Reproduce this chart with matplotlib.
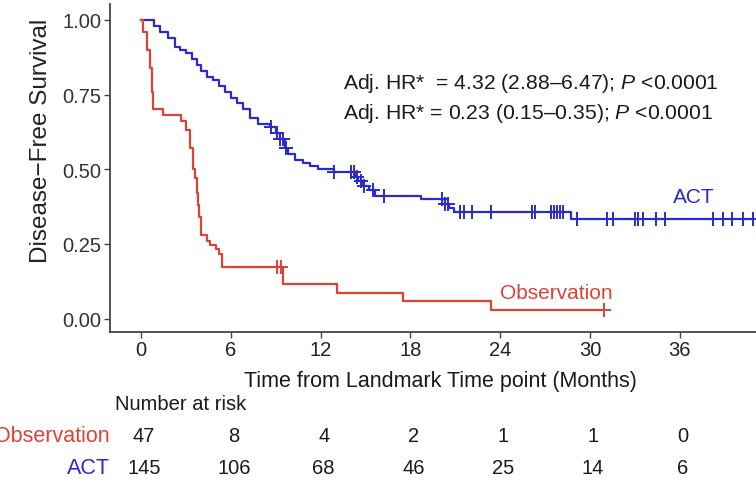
# Kaplan-Meier style disease-free survival curves with a number-at-risk table
import numpy as np
import matplotlib
matplotlib.use('Agg')
import matplotlib.pyplot as plt
from matplotlib.transforms import blended_transform_factory

plt.rcParams['font.family'] = ['Liberation Sans', 'DejaVu Sans']
plt.rcParams['mathtext.fontset'] = 'custom'
plt.rcParams['mathtext.it'] = 'Liberation Sans:italic'
plt.rcParams['mathtext.rm'] = 'Liberation Sans'

# ACT arm: event times (months) and survival after each step
act_time = [0, 0.9, 1.3, 1.8, 2.3, 2.6, 3.0, 3.4, 3.75, 4.0, 4.4, 4.8, 5.2, 5.6, 6.0,
            6.4, 6.8, 7.3, 7.8, 8.6, 9.0, 9.3, 9.6, 9.8, 10.3, 10.8, 11.3, 11.8, 12.9,
            14.3, 14.5, 14.8, 15.2, 15.6, 18.7, 20.3, 20.6, 20.9, 28.7]
act_surv = [1.0, 0.98, 0.96, 0.94, 0.91, 0.90, 0.89, 0.87, 0.85, 0.83, 0.81, 0.80, 0.78,
            0.76, 0.74, 0.72, 0.70, 0.67, 0.65, 0.64, 0.62, 0.60, 0.57, 0.55, 0.53, 0.52,
            0.51, 0.50, 0.49, 0.475, 0.46, 0.445, 0.43, 0.41, 0.40, 0.385, 0.37, 0.356, 0.332]
act_cens = [8.7, 9.1, 9.3, 9.5, 9.7, 12.9, 14.0, 14.2, 14.4, 14.7, 14.9, 15.5, 16.2,
            20.1, 20.3, 20.5, 21.3, 21.6, 22.1, 23.4, 26.1, 26.3, 27.4, 27.6, 27.8, 28.0,
            28.2, 29.1, 31.1, 31.5, 33.0, 33.2, 33.5, 34.4, 35.0, 38.2, 38.9, 39.5, 40.2, 40.9]

# Observation arm
obs_time = [0, 0.13, 0.4, 0.6, 0.74, 0.8, 1.5, 2.7, 3.0, 3.3, 3.5, 3.6, 3.75, 3.8, 3.85,
            4.0, 4.4, 4.6, 5.0, 5.2, 5.4, 9.5, 13.1, 17.5, 23.4]
obs_surv = [1.0, 0.96, 0.90, 0.84, 0.76, 0.70, 0.68, 0.66, 0.63, 0.57, 0.50, 0.47, 0.42,
            0.38, 0.34, 0.28, 0.26, 0.245, 0.234, 0.217, 0.174, 0.117, 0.087, 0.06, 0.027]
obs_cens = [9.1, 9.35, 30.9]

risk_times = [0, 6, 12, 18, 24, 30, 36]
risk_obs = [47, 8, 4, 2, 1, 1, 0]
risk_act = [145, 106, 68, 46, 25, 14, 6]

blue = '#2b2bcc'
red = '#dd4236'
W, H = 756, 485

fig = plt.figure(figsize=(W / 100, H / 100), dpi=100)
ax = fig.add_axes([110 / W, (H - 333) / H, (W - 110) / W, 328 / H])


def surv_at(t, times, surv):
    i = np.searchsorted(times, t, side='right') - 1
    return np.array(surv)[i]


for times, surv, cens, col in [(act_time, act_surv, act_cens, blue),
                               (obs_time, obs_surv, obs_cens, red)]:
    tt = list(times) + [max(cens)]
    ss = list(surv) + [surv[-1]]
    ax.step(tt, ss, where='post', color=col, lw=1.6)
    ax.plot(cens, surv_at(cens, times, surv), ls='none', marker='+', ms=10,
            mew=1.4, color=col)

ax.set_xlim(-2.07, 41.08)
ax.set_ylim(-0.045, 1.053)
ax.set_xticks(risk_times)
ax.set_yticks([0, 0.25, 0.5, 0.75, 1.0])
ax.set_yticklabels(['0.00', '0.25', '0.50', '0.75', '1.00'])
ax.tick_params(labelsize=14.5, colors='#444444', length=4, width=1, pad=2)
ax.tick_params(axis='x', labelcolor='#222222')
ax.tick_params(axis='y', labelcolor='#333333')
for s in ['top', 'right']:
    ax.spines[s].set_visible(False)
for s in ['left', 'bottom']:
    ax.spines[s].set_color('#444444')
    ax.spines[s].set_linewidth(1.3)

ax.set_ylabel('Disease\u2212Free Survival', fontsize=17.5, color='#222222')
ax.yaxis.set_label_coords((52 - 110) / 646, (333 - 141) / 328)

# Hazard ratio annotations and curve labels
ax.text(13.5, 0.79, 'Adj. HR*  = 4.32 (2.88\u20136.47); $P$ <0.0001', fontsize=15.2,
        color='#1a1a1a', va='center')
ax.text(13.5, 0.69, 'Adj. HR* = 0.23 (0.15\u20130.35); $P$ <0.0001', fontsize=15.2,
        color='#1a1a1a', va='center')
ax.text(35.5, 0.41, 'ACT', fontsize=15, color=blue, va='center')
ax.text(24.0, 0.087, 'Observation', fontsize=15, color=red, va='center')

# Axis title and risk table below the panel
tr = blended_transform_factory(ax.transData, fig.transFigure)
fig.text(440 / W, 1 - 382 / H, 'Time from Landmark Time point (Months)', fontsize=15.5,
         color='#1a1a1a', ha='center', va='center')
fig.text(115 / W, 1 - 405 / H, 'Number at risk', fontsize=14.5, color='#1a1a1a',
         ha='left', va='center')
fig.text(110 / W, 1 - 437 / H, 'Observation', fontsize=15.5, color=red, ha='right',
         va='center')
fig.text(110 / W, 1 - 469 / H, 'ACT', fontsize=15.5, color=blue, ha='right', va='center')
for t, n_obs, n_act in zip(risk_times, risk_obs, risk_act):
    fig.text(t + 0.2, 1 - 437 / H, str(n_obs), fontsize=14.5, color='#1a1a1a',
             ha='center', va='center', transform=tr)
    fig.text(t + 0.2, 1 - 469 / H, str(n_act), fontsize=14.5, color='#1a1a1a',
             ha='center', va='center', transform=tr)

fig.savefig('out.png', dpi=100)
